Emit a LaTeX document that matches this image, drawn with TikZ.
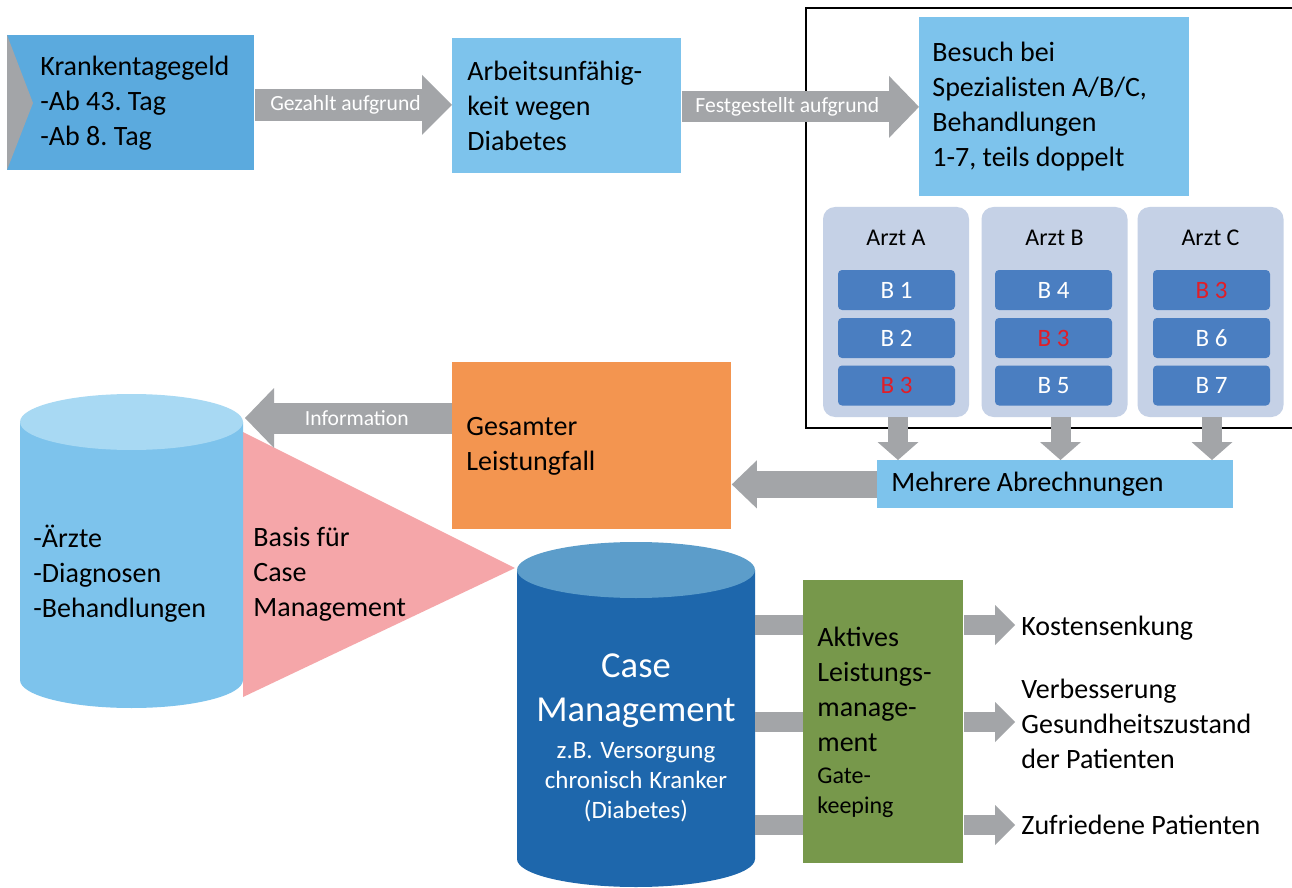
\documentclass[tikz,border=0pt]{standalone}
\usepackage{fontspec}
\setmainfont{Carlito}
\usetikzlibrary{arrows.meta}
\frenchspacing
\newcommand{\natsp}{\spaceskip=0pt\xspaceskip=0pt\relax}
\definecolor{agray}{RGB}{163,165,168}
\definecolor{krblue}{RGB}{91,170,222}
\definecolor{lblue}{RGB}{125,195,236}
\definecolor{ltop}{RGB}{168,217,243}
\definecolor{orng}{RGB}{243,149,80}
\definecolor{panelc}{RGB}{197,209,230}
\definecolor{bboxc}{RGB}{74,126,193}
\definecolor{bred}{RGB}{224,30,40}
\definecolor{grn}{RGB}{119,152,75}
\definecolor{cmblue}{RGB}{30,103,172}
\definecolor{cmtop}{RGB}{92,157,202}
\definecolor{pinkc}{RGB}{245,166,169}
\begin{document}
\frenchspacing
\begin{tikzpicture}[x=0.5pt,y=-0.5pt,
  txt/.style={font=\fontsize{14}{17.5}\selectfont},
  lbl/.style={font=\fontsize{10.8}{13}\selectfont, text=white},
  box/.style={anchor=north west, inner ysep=0pt, align=left, txt},
  panelbox/.style={fill=panelc, rounded corners=6pt, minimum width=73pt, minimum height=105pt, inner sep=0pt},
  bbx/.style={fill=bboxc, rounded corners=2pt, minimum width=58.5pt, minimum height=20pt, inner sep=0pt, text=white, font=\fontsize{12.5}{15}\selectfont},
  redbx/.style={bbx, text=bred},
  arzt/.style={font=\fontsize{12}{14}\selectfont},
  fatarrow/.style n args={3}{draw=agray, line width=#1, -{Triangle[width=#2, length=#3, line width=0pt]}},
  barline/.style={draw=agray, line width=10pt},
  outtxt/.style={anchor=west, inner sep=3pt, align=left, txt},
]
\useasboundingbox (0,0) rectangle (1292,888);
\fill[white] (0,0) rectangle (1292,888);

% frame
\draw[line width=0.9pt] (806,8) rectangle (1300,428);

% top row boxes
\node[box, fill=krblue, minimum width=123.5pt, minimum height=67.5pt, text width=90.5pt, inner xsep=16.5pt] (kr) at (7,35) {\natsp Krankentagegeld\\-Ab 43. Tag\\-Ab 8. Tag};
\fill[agray] (7,35) -- (33,103) -- (7,170) -- cycle;
\node[box, fill=lblue, minimum width=114.5pt, minimum height=67.5pt, text width=99.5pt, inner xsep=7.5pt] (arb) at (452,38) {\natsp Arbeitsunfähig-\\keit wegen\\Diabetes};
\node[box, fill=lblue, minimum width=135pt, minimum height=89.5pt, text width=122pt, inner xsep=6.5pt] (bes) at (919,17) {\natsp Besuch bei\\Spezialisten A/B/C,\\Behandlungen\\1-7, teils doppelt};

\draw[fatarrow={16pt}{30pt}{15pt}] ([yshift=-1pt]kr.east) -- ([yshift=-1pt]kr.east -| arb.west) node[lbl, pos=0.46] (l1) {Gezahlt aufgrund};
\draw[fatarrow={15.5pt}{31pt}{15pt}] ([yshift=-0.5pt]arb.east) -- ([yshift=-0.5pt]arb.east -| bes.west) node[lbl, pos=0.445] (l2) {Festgestellt aufgrund};

% panels
\node[panelbox] (pA) at (896,312) {};
\node[panelbox] (pB) at (1054.5,312) {};
\node[panelbox] (pC) at (1210.5,312) {};
\node[arzt] (tA) at (896,238) {Arzt A};
\node[arzt] (tB) at (1054.5,238) {Arzt B};
\node[arzt] (tC) at (1210.5,238) {Arzt C};
\node[bbx] (a1) at (896.5,290) {B 1};
\node[bbx] (a2) at (896.5,338) {B 2};
\node[redbx] (a3) at (896.5,385.5) {B 3};
\node[bbx] (b1) at (1053.5,290) {B 4};
\node[redbx] (b2) at (1053.5,338) {B 3};
\node[bbx] (b3) at (1053.5,385.5) {B 5};
\node[redbx] (c1) at (1211.5,290) {B 3};
\node[bbx] (c2) at (1211.5,338) {B 6};
\node[bbx] (c3) at (1211.5,385.5) {B 7};

% Mehrere
\node[box, fill=lblue, minimum width=178pt, minimum height=24pt, text width=164pt, inner xsep=7pt] (mehr) at (877,460) {\natsp Mehrere Abrechnungen};
\draw[fatarrow={10pt}{20.5pt}{9pt}] ([xshift=1pt]pA.south) -- ([xshift=1pt]pA.south |- mehr.north);
\draw[fatarrow={10pt}{20.5pt}{9pt}] ([xshift=3pt]pB.south) -- ([xshift=3pt]pB.south |- mehr.north);
\draw[fatarrow={10pt}{20.5pt}{9pt}] ([xshift=0.75pt]pC.south) -- ([xshift=0.75pt]pC.south |- mehr.north);

% Gesamter
\node[box, fill=orng, minimum width=139.5pt, minimum height=83.5pt, text width=125.5pt, inner xsep=7pt] (ges) at (452,362) {\natsp Gesamter\\Leistungfall};
\draw[fatarrow={13.5pt}{24pt}{12.5pt}] (mehr.west) -- (mehr.west -| ges.east);

% left cylinder and triangle
\fill[pinkc] (243,432) -- (515,568) -- (243,697) -- cycle;
\fill[lblue] (20,422) -- (20,680) arc[start angle=180, end angle=360, x radius=55.75pt, y radius=14pt] -- (243,422) -- cycle;
\fill[ltop] (131.5,422) ellipse [x radius=55.75pt, y radius=14pt];
\coordinate (dbR) at (245,418);
\node[anchor=west, inner sep=3pt, align=left, txt] (db) at (27,574) {-Ärzte\\-Diagnosen\\-Behandlungen};
\node[anchor=west, inner sep=3pt, align=left, txt] (basis) at (247,574) {Basis für\\Case\\Management};
\draw[fatarrow={15.5pt}{30pt}{14.5pt}] (ges.west |- dbR) -- (dbR) node[lbl, pos=0.46] (l3) {Information};

% Case Management cylinder
\fill[cmblue] (517,570) -- (517,859) arc[start angle=180, end angle=360, x radius=59.5pt, y radius=14pt] -- (755,570) -- cycle;
\fill[cmtop] (636,570) ellipse [x radius=59.5pt, y radius=14pt];
\coordinate (cmR) at (755,700);
\node[text=white, align=center, text width=115pt, inner sep=0pt, font=\fontsize{12.5}{15}\selectfont] (cm) at (636,738)
  {\natsp{\fontsize{18.3}{22}\selectfont Case}\\[7pt]{\fontsize{18.3}{22}\selectfont Management}\\[3.5pt]z.B. Versorgung\\chronisch Kranker\\(Diabetes)};

% green box
\node[box, fill=grn, minimum width=80pt, minimum height=141.5pt, text width=66pt, inner xsep=7pt] (grn) at (803,580)
  {\natsp Aktives\\Leistungs-\\manage-\\ment\\[-1.5pt]{\fontsize{12}{15}\selectfont Gate-}\\[-2.5pt]{\fontsize{12}{15}\selectfont keeping}};

% outcomes
\node[outtxt] (o1) at (1015,628) {Kostensenkung};
\node[outtxt] (o2) at (1015,724) {Verbesserung\\Gesundheitszustand\\der Patienten};
\node[outtxt] (o3) at (1015,825) {Zufriedene Patienten};

\draw[barline] ([yshift=1.5pt]cmR |- o1.west) -- ([yshift=1.5pt]grn.west |- o1.west);
\draw[barline] ([yshift=1pt]cmR |- o2.west) -- ([yshift=1pt]grn.west |- o2.west);
\draw[barline] (cmR |- o3.west) -- (grn.west |- o3.west);
\draw[fatarrow={10pt}{20pt}{10pt}] ([yshift=1.5pt]grn.east |- o1.west) -- ([yshift=1.5pt]o1.west);
\draw[fatarrow={10pt}{20pt}{10pt}] ([yshift=1pt]grn.east |- o2.west) -- ([yshift=1pt]o2.west);
\draw[fatarrow={10pt}{20pt}{10pt}] (grn.east |- o3.west) -- (o3.west);
\end{tikzpicture}
\end{document}
